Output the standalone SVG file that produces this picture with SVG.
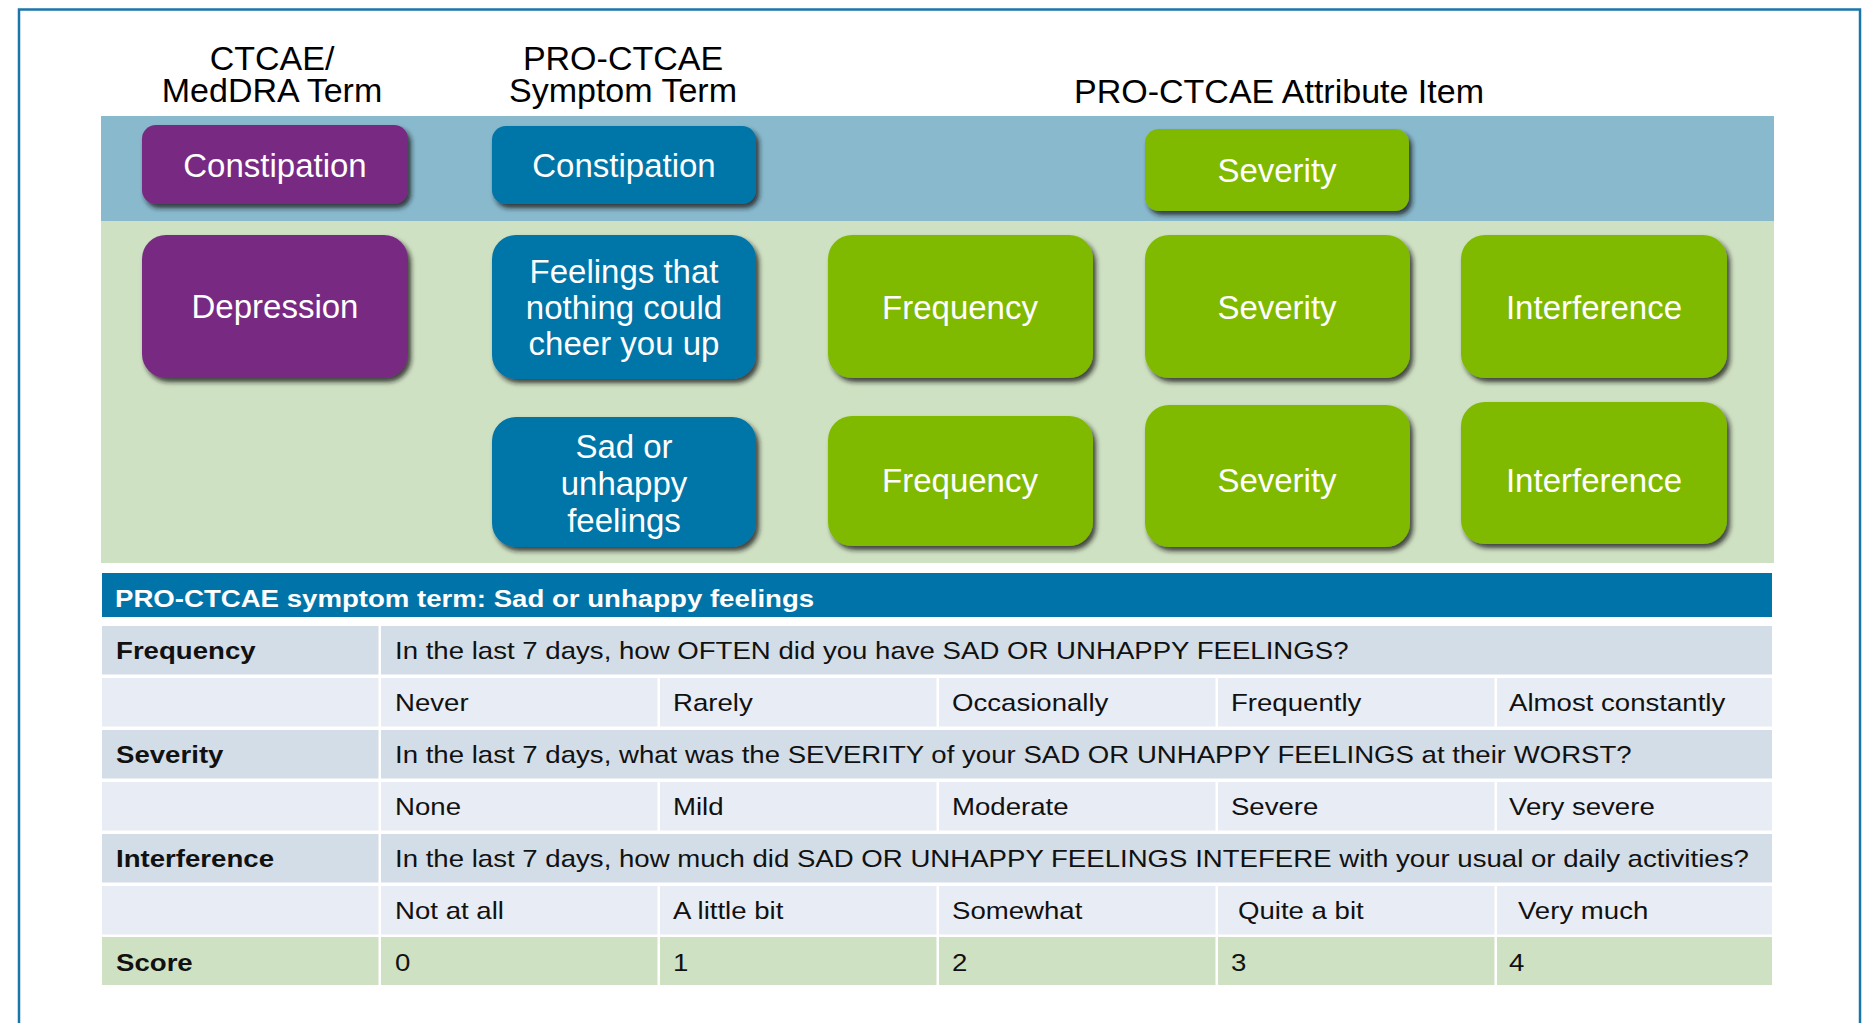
<svg xmlns="http://www.w3.org/2000/svg" width="1862" height="1023" viewBox="0 0 1862 1023">
  <defs>
    <filter id="shadow" x="-10%" y="-10%" width="125%" height="130%">
      <feDropShadow dx="3" dy="4" stdDeviation="2.5" flood-color="#1e1e1e" flood-opacity="0.8"/>
    </filter>
  </defs>
  <style>
    .hdr { font-family: "Liberation Sans", Arial, sans-serif; font-size: 34px; fill: #000; text-anchor: middle; }
    .node rect { filter: url(#shadow); }
    .node text { font-family: "Liberation Sans", Arial, sans-serif; font-size: 33px; fill: #fff; text-anchor: middle; }
    .ctcae rect { fill: #782a83; }
    .sym rect { fill: #0074a8; }
    .attr rect { fill: #7fba00; }
    .tbl text { font-family: "Liberation Sans", Arial, sans-serif; font-size: 24px; fill: #111; }
    .tbl .b { font-weight: bold; }
    .q { fill: #d3dde7; }
    .o { fill: #e8ecf4; }
    .s { fill: #cfe1c3; }
  </style>

  <!-- page frame -->
  <rect x="0" y="0" width="1862" height="1023" fill="#fff"/>
  <rect x="19" y="9.5" width="1841" height="1100" fill="none" stroke="#1a76aa" stroke-width="2.5"/>

  <!-- column titles -->
  <g id="titles">
    <text class="hdr" x="272" y="70">CTCAE/</text>
    <text class="hdr" x="272" y="102">MedDRA Term</text>
    <text class="hdr" x="623" y="70">PRO-CTCAE</text>
    <text class="hdr" x="623" y="102">Symptom Term</text>
    <text class="hdr" x="1279" y="103">PRO-CTCAE Attribute Item</text>
  </g>

  <!-- background bands -->
  <rect x="101" y="116" width="1673" height="105" fill="#88b9cd"/>
  <rect x="101" y="221" width="1673" height="342" fill="#cfe1c3"/>

  <!-- row 1: constipation -->
  <g id="ctcae-constipation" class="node ctcae">
    <rect x="142" y="125" width="266" height="79" rx="14"/>
    <text x="275" y="177">Constipation</text>
  </g>
  <g id="sym-constipation" class="node sym">
    <rect x="492" y="126" width="264" height="78" rx="14"/>
    <text x="624" y="177">Constipation</text>
  </g>
  <g id="attr-constipation-severity" class="node attr">
    <rect x="1145" y="129" width="264" height="82" rx="14"/>
    <text x="1277" y="182">Severity</text>
  </g>

  <!-- row 2: depression / feelings that nothing could cheer you up -->
  <g id="ctcae-depression" class="node ctcae">
    <rect x="142" y="235" width="266" height="143" rx="24"/>
    <text x="275" y="318">Depression</text>
  </g>
  <g id="sym-cheer-up" class="node sym">
    <rect x="492" y="235" width="264" height="144" rx="24"/>
    <text x="624" y="283">Feelings that</text>
    <text x="624" y="319">nothing could</text>
    <text x="624" y="355">cheer you up</text>
  </g>
  <g id="attr-cheer-frequency" class="node attr">
    <rect x="828" y="235" width="265" height="143" rx="24"/>
    <text x="960" y="319">Frequency</text>
  </g>
  <g id="attr-cheer-severity" class="node attr">
    <rect x="1145" y="235" width="265" height="143" rx="24"/>
    <text x="1277" y="319">Severity</text>
  </g>
  <g id="attr-cheer-interference" class="node attr">
    <rect x="1461" y="235" width="266" height="143" rx="24"/>
    <text x="1594" y="319">Interference</text>
  </g>

  <!-- row 3: sad or unhappy feelings -->
  <g id="sym-sad" class="node sym">
    <rect x="492" y="417" width="264" height="130" rx="24"/>
    <text x="624" y="458">Sad or</text>
    <text x="624" y="495">unhappy</text>
    <text x="624" y="532">feelings</text>
  </g>
  <g id="attr-sad-frequency" class="node attr">
    <rect x="828" y="416" width="265" height="130" rx="24"/>
    <text x="960" y="492">Frequency</text>
  </g>
  <g id="attr-sad-severity" class="node attr">
    <rect x="1145" y="405" width="265" height="142" rx="24"/>
    <text x="1277" y="492">Severity</text>
  </g>
  <g id="attr-sad-interference" class="node attr">
    <rect x="1461" y="402" width="266" height="142" rx="24"/>
    <text x="1594" y="492">Interference</text>
  </g>

  <!-- item table: cells -->
  <g id="item-table" class="tbl">
    <rect x="102" y="573" width="1670" height="44" fill="#0074a8"/>

    <!-- frequency -->
    <rect class="q" x="102" y="626" width="276.5" height="48.5"/>
    <rect class="q" x="381" y="626" width="1391" height="48.5"/>
    <rect class="o" x="102" y="678" width="276.5" height="48.5"/>
    <rect class="o" x="381" y="678" width="276.5" height="48.5"/>
    <rect class="o" x="660" y="678" width="276.5" height="48.5"/>
    <rect class="o" x="939" y="678" width="276.5" height="48.5"/>
    <rect class="o" x="1218" y="678" width="276.5" height="48.5"/>
    <rect class="o" x="1497" y="678" width="275" height="48.5"/>

    <!-- severity -->
    <rect class="q" x="102" y="730" width="276.5" height="48.5"/>
    <rect class="q" x="381" y="730" width="1391" height="48.5"/>
    <rect class="o" x="102" y="782" width="276.5" height="48.5"/>
    <rect class="o" x="381" y="782" width="276.5" height="48.5"/>
    <rect class="o" x="660" y="782" width="276.5" height="48.5"/>
    <rect class="o" x="939" y="782" width="276.5" height="48.5"/>
    <rect class="o" x="1218" y="782" width="276.5" height="48.5"/>
    <rect class="o" x="1497" y="782" width="275" height="48.5"/>

    <!-- interference -->
    <rect class="q" x="102" y="834" width="276.5" height="48.5"/>
    <rect class="q" x="381" y="834" width="1391" height="48.5"/>
    <rect class="o" x="102" y="886" width="276.5" height="48.5"/>
    <rect class="o" x="381" y="886" width="276.5" height="48.5"/>
    <rect class="o" x="660" y="886" width="276.5" height="48.5"/>
    <rect class="o" x="939" y="886" width="276.5" height="48.5"/>
    <rect class="o" x="1218" y="886" width="276.5" height="48.5"/>
    <rect class="o" x="1497" y="886" width="275" height="48.5"/>

    <!-- score -->
    <rect class="s" x="102" y="937" width="276.5" height="48"/>
    <rect class="s" x="381" y="937" width="276.5" height="48"/>
    <rect class="s" x="660" y="937" width="276.5" height="48"/>
    <rect class="s" x="939" y="937" width="276.5" height="48"/>
    <rect class="s" x="1218" y="937" width="276.5" height="48"/>
    <rect class="s" x="1497" y="937" width="275" height="48"/>

    <!-- table text, set in a horizontally widened face (x values are pre-divided by 1.15) -->
    <g transform="scale(1.15,1)">
      <text class="b" x="100" y="607" style="fill:#fff">PRO-CTCAE symptom term: Sad or unhappy feelings</text>

      <text class="b" x="100.9" y="659">Frequency</text>
      <text x="343.5" y="659">In the last 7 days, how OFTEN did you have SAD OR UNHAPPY FEELINGS?</text>
      <text x="343.5" y="711">Never</text>
      <text x="585.2" y="711">Rarely</text>
      <text x="827.8" y="711">Occasionally</text>
      <text x="1070.4" y="711">Frequently</text>
      <text x="1312.2" y="711">Almost constantly</text>

      <text class="b" x="100.9" y="763">Severity</text>
      <text x="343.5" y="763">In the last 7 days, what was the SEVERITY of your SAD OR UNHAPPY FEELINGS at their WORST?</text>
      <text x="343.5" y="815">None</text>
      <text x="585.2" y="815">Mild</text>
      <text x="827.8" y="815">Moderate</text>
      <text x="1070.4" y="815">Severe</text>
      <text x="1312.2" y="815">Very severe</text>

      <text class="b" x="100.9" y="867">Interference</text>
      <text x="343.5" y="867">In the last 7 days, how much did SAD OR UNHAPPY FEELINGS INTEFERE with your usual or daily activities?</text>
      <text x="343.5" y="919">Not at all</text>
      <text x="585.2" y="919">A little bit</text>
      <text x="827.8" y="919">Somewhat</text>
      <text x="1076.5" y="919">Quite a bit</text>
      <text x="1320" y="919">Very much</text>

      <text class="b" x="100.9" y="971">Score</text>
      <text x="343.5" y="971">0</text>
      <text x="585.2" y="971">1</text>
      <text x="827.8" y="971">2</text>
      <text x="1070.4" y="971">3</text>
      <text x="1312.2" y="971">4</text>
    </g>
  </g>
</svg>
